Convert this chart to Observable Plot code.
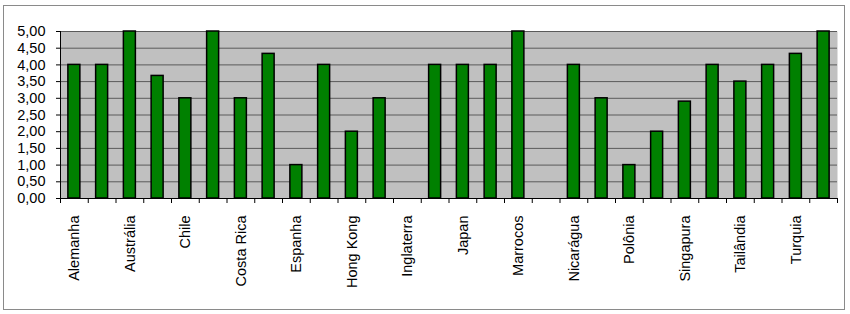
<!DOCTYPE html>
<html>
<head>
<meta charset="utf-8">
<script src="https://cdn.jsdelivr.net/npm/d3@7"></script>
<script src="https://cdn.jsdelivr.net/npm/@observablehq/plot@0.6"></script>
<style>
  html, body { margin: 0; padding: 0; background: #fff; }
  #wrap { position: relative; width: 850px; height: 314px; overflow: hidden; }
  #border { position: absolute; left: 3px; top: 5px; width: 840px; height: 303px; border: 1px solid #8a8a8a; pointer-events: none; }
  svg { display: block; }
</style>
</head>
<body>
<div id="wrap"><div id="border"></div></div>
<script>
// Categories (only every other one is labelled in the reference)
const categories = [
  "Alemanha", "Argentina", "Austrália", "Brasil", "Chile", "China", "Costa Rica", "Cuba",
  "Espanha", "França", "Hong Kong", "Índia", "Inglaterra", "Itália", "Japan", "Malásia",
  "Marrocos", "México", "Nicarágua", "Peru", "Polônia", "Portugal", "Singapura", "Suécia",
  "Tailândia", "Tunísia", "Turquia", "Uruguai"
];
const values = [
  4.0, 4.0, 5.0, 3.67, 3.0, 5.0, 3.0, 4.33,
  1.0, 4.0, 2.0, 3.0, 0.0, 4.0, 4.0, 4.0,
  5.0, 0.0, 4.0, 3.0, 1.0, 2.0, 2.9, 4.0,
  3.5, 4.0, 4.33, 5.0
];
const yTicks = [0, 0.5, 1, 1.5, 2, 2.5, 3, 3.5, 4, 4.5, 5];
const labelled = categories.filter((d, i) => i % 2 === 0);

const data = categories.map((c, i) => ({ pais: c, valor: values[i] }));

const W = 850, H = 314, ML = 60, MR = 13, MT = 31, MB = 116;
const step = (W - ML - MR) / categories.length;
const barW = 12;
const inset = (step - barW) / 2;
const fmt = v => v.toFixed(2).replace(".", ",");

const chart = Plot.plot({
  width: W,
  height: H,
  marginLeft: ML,
  marginRight: MR,
  marginTop: MT,
  marginBottom: MB,
  style: { fontFamily: "'Liberation Sans', Arial, sans-serif", fontSize: "14.5px", color: "#000", background: "transparent", overflow: "visible" },
  x: { domain: categories, padding: 0, round: false },
  y: { domain: [0, 5], ticks: yTicks },
  marks: [
    Plot.frame({ fill: "#c0c0c0", stroke: null }),
    Plot.ruleY(yTicks, { stroke: "#5a5a5a", strokeWidth: 1 }),
    Plot.ruleY([0], { stroke: "#000", strokeWidth: 1 }),
    Plot.barY(data, { x: "pais", y: "valor", fill: "#008000", stroke: "#000", strokeWidth: 1.5, insetLeft: inset, insetRight: inset }),
    // left axis line
    Plot.ruleX([categories[0]], { dx: -step / 2, y1: 0, y2: 5, stroke: "#000", strokeWidth: 1 }),
    // x tick marks at category boundaries
    Plot.ruleX(categories, { dx: -step / 2, y1: 0, y2: -0.15, stroke: "#000", strokeWidth: 1 }),
    Plot.ruleX([categories[categories.length - 1]], { dx: step / 2, y1: 0, y2: -0.15, stroke: "#000", strokeWidth: 1 }),
    Plot.axisY({ ticks: yTicks, tickFormat: fmt, tickSize: 4, tickPadding: 11, label: null, fontSize: 14.5 }),
    Plot.axisX({ ticks: labelled, tickSize: 0, tickPadding: 17, tickRotate: -90, label: null, fontSize: 14.5 })
  ]
});
document.getElementById("wrap").insertBefore(chart, document.getElementById("border"));
</script>
</body>
</html>
